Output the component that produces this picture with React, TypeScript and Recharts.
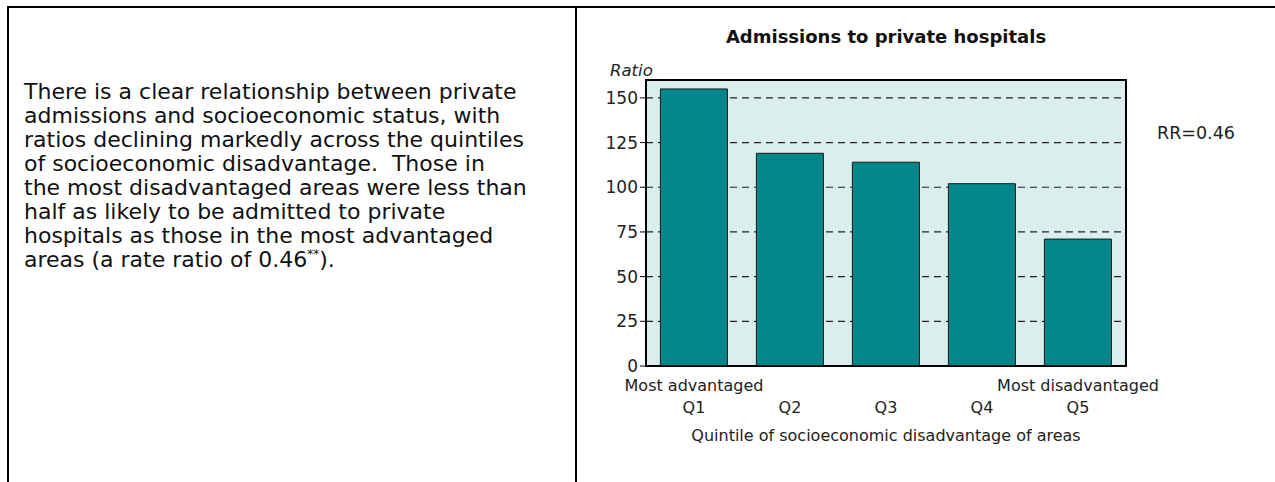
import React from 'react';
import { BarChart, Bar, XAxis, YAxis, CartesianGrid, ReferenceArea } from 'recharts';

const quintiles = ['Q1', 'Q2', 'Q3', 'Q4', 'Q5'];
const endLabels = ['Most advantaged', '', '', '', 'Most disadvantaged'];
const ratios = [155, 119, 114, 102, 71];
const yTicks = [0, 25, 50, 75, 100, 125, 150];
const yDomain = [0, 160];

const titleText = 'Admissions to private hospitals';
const yLabelText = 'Ratio';
const xLabelText = 'Quintile of socioeconomic disadvantage of areas';
const rrText = 'RR=0.46';

const bodyLines = [
  'There is a clear relationship between private',
  'admissions and socioeconomic status, with',
  'ratios declining markedly across the quintiles',
  'of socioeconomic disadvantage.  Those in',
  'the most disadvantaged areas were less than',
  'half as likely to be admitted to private',
  'hospitals as those in the most advantaged',
];
const lastLinePre = 'areas (a rate ratio of 0.46';
const lastLineSup = '**';
const lastLinePost = ').';

const data = quintiles.map((q, i) => ({ q, end: endLabels[i], ratio: ratios[i] }));

const FONT = '"DejaVu Sans", sans-serif';

const XTick = (props: any) => {
  const { x, y, payload } = props;
  const idx = quintiles.indexOf(payload.value);
  const top = idx >= 0 ? endLabels[idx] : '';
  return (
    <g>
      {top ? (
        <text x={x} y={y + 17} textAnchor="middle" fontFamily={FONT} fontSize={16} fill="#222">
          {top}
        </text>
      ) : null}
      <text x={x} y={y + 39} textAnchor="middle" fontFamily={FONT} fontSize={16} fill="#222">
        {payload.value}
      </text>
    </g>
  );
};

export default function App() {
  return (
    <div
      style={{
        position: 'absolute',
        left: 0,
        top: 0,
        width: 1275,
        height: 482,
        background: '#fff',
        fontFamily: FONT,
        color: '#111',
        overflow: 'hidden',
      }}
    >
      {/* table borders */}
      <div style={{ position: 'absolute', left: 7, top: 6, width: 1268, height: 2, background: '#000' }} />
      <div style={{ position: 'absolute', left: 7, top: 6, width: 2, height: 476, background: '#000' }} />
      <div style={{ position: 'absolute', left: 575, top: 6, width: 2, height: 476, background: '#000' }} />

      {/* body text */}
      <div style={{ position: 'absolute', left: 24, top: 80, fontSize: 22, lineHeight: '24px', color: '#111' }}>
        {bodyLines.map((l, i) => (
          <div key={i} style={{ whiteSpace: 'pre' }}>{l}</div>
        ))}
        <div style={{ whiteSpace: 'pre' }}>
          {lastLinePre}
          <sup style={{ fontSize: 12, verticalAlign: 'top', lineHeight: '12px' }}>{lastLineSup}</sup>
          {lastLinePost}
        </div>
      </div>

      {/* chart title & annotations */}
      <div
        style={{
          position: 'absolute',
          left: 636,
          top: 26,
          width: 500,
          textAlign: 'center',
          fontWeight: 'bold',
          fontSize: 18,
          lineHeight: '22px',
          color: '#111',
        }}
      >
        {titleText}
      </div>
      <div style={{ position: 'absolute', left: 610, top: 61, fontStyle: 'italic', fontSize: 16.5, lineHeight: '20px', color: '#222' }}>
        {yLabelText}
      </div>
      <div style={{ position: 'absolute', left: 1157, top: 122, fontSize: 17.5, lineHeight: '22px', color: '#222' }}>
        {rrText}
      </div>

      <div style={{ position: 'absolute', left: 580, top: 0 }}>
        <BarChart
          width={695}
          height={482}
          data={data}
          margin={{ top: 80, right: 149, bottom: 38, left: 16 }}
          barCategoryGap="15%"
        >
          <ReferenceArea y1={yDomain[0]} y2={yDomain[1]} fill="none" fillOpacity={0} stroke="#000" strokeWidth={2} ifOverflow="visible" />
          <CartesianGrid
            vertical={false}
            horizontalValues={yTicks.filter((v) => v > 0)}
            stroke="#222"
            strokeWidth={1.2}
            strokeDasharray="7 5"
            fill="#daeeed"
            fillOpacity={1}
          />
          <XAxis
            dataKey="q"
            tick={<XTick />}
            tickLine={false}
            axisLine={{ stroke: '#000', strokeWidth: 1.5 }}
            interval={0}
            height={78}
            label={{
              value: xLabelText,
              position: 'insideBottom',
              offset: 3,
              fontFamily: FONT,
              fontSize: 16,
              fill: '#222',
            }}
          />
          <YAxis
            domain={yDomain}
            ticks={yTicks}
            interval={0}
            width={50}
            tickLine={{ stroke: '#000' }}
            axisLine={{ stroke: '#000' }}
            tick={{ fontFamily: FONT, fontSize: 17, fill: '#222' }}
            tickSize={6}
          />
          <Bar dataKey="ratio" fill="#03878a" stroke="#1a1a1a" strokeWidth={1} isAnimationActive={false} />
        </BarChart>
      </div>
    </div>
  );
}
